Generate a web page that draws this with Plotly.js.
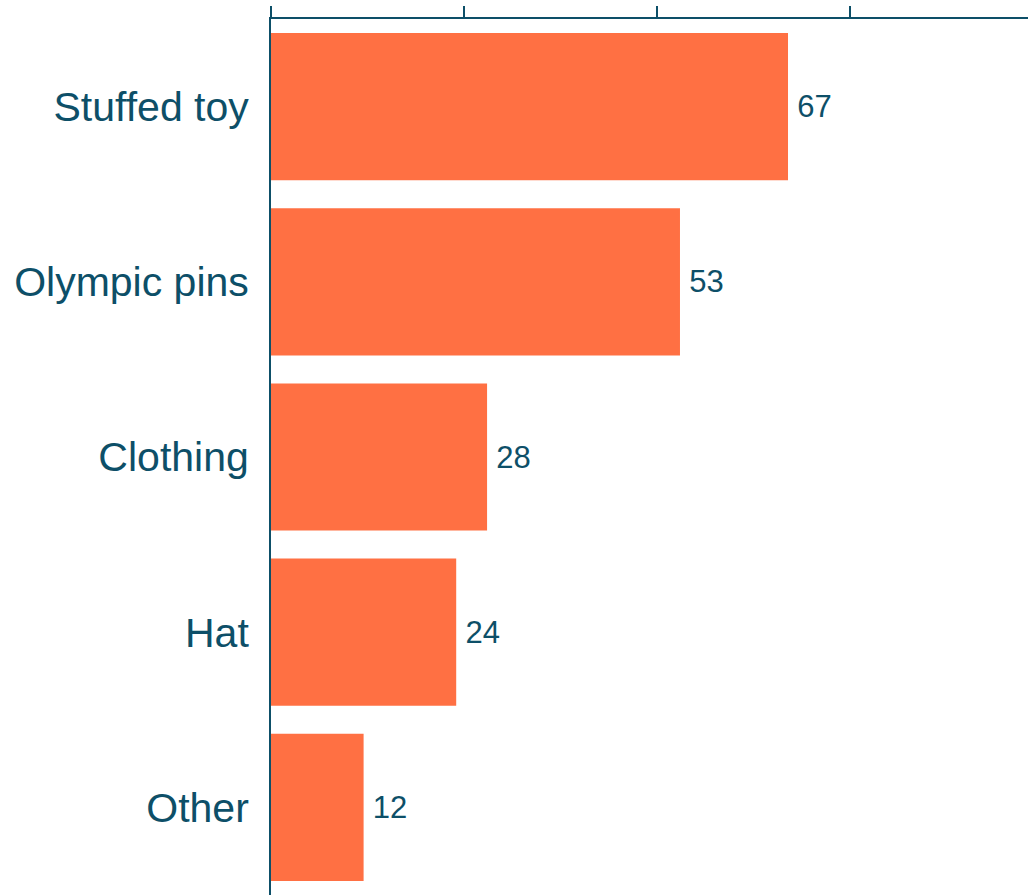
<!DOCTYPE html>
<html>
<head>
<meta charset="utf-8">
<script src="https://cdn.plot.ly/plotly-3.0.1.min.js"></script>
<style>html,body{margin:0;padding:0;background:#fff;}#chart{width:1028px;height:895px;}</style>
</head>
<body>
<div id="chart"></div>
<script>
const categories = ["Stuffed toy", "Olympic pins", "Clothing", "Hat", "Other"];
const values = [67, 53, 28, 24, 12];
const tickValues = [0, 25, 50, 75, 100];

const ink = "#0D4F68";
const barColor = "#FF7043";
const fam = "'Liberation Sans', Arial, sans-serif";

const trace = {
  type: "bar",
  orientation: "h",
  y: categories,
  x: values,
  marker: {color: barColor},
  text: values.map(v => "\u2009" + v),
  textposition: "outside",
  cliponaxis: false,
  textfont: {family: fam, size: 31, color: ink},
  hoverinfo: "none"
};

const layout = {
  width: 1028, height: 895,
  margin: {l: 271, r: 0, t: 19, b: 0, pad: 0},
  paper_bgcolor: "#fff", plot_bgcolor: "#fff",
  showlegend: false,
  bargap: 0.16,
  font: {family: fam, color: ink},
  xaxis: {
    side: "top", range: [0, 98.1], tickvals: tickValues,
    showticklabels: false, ticks: "outside", ticklen: 11, tickwidth: 2, tickcolor: ink,
    showline: true, linecolor: ink, linewidth: 2, showgrid: false, zeroline: false
  },
  yaxis: {
    autorange: "reversed", type: "category",
    showline: true, linecolor: ink, linewidth: 2, showgrid: false, zeroline: false,
    ticks: "", ticklabelstandoff: 12,
    tickfont: {family: fam, size: 41, color: ink}
  }
};

Plotly.newPlot("chart", [trace], layout, {displayModeBar: false, staticPlot: true});
</script>
</body>
</html>
